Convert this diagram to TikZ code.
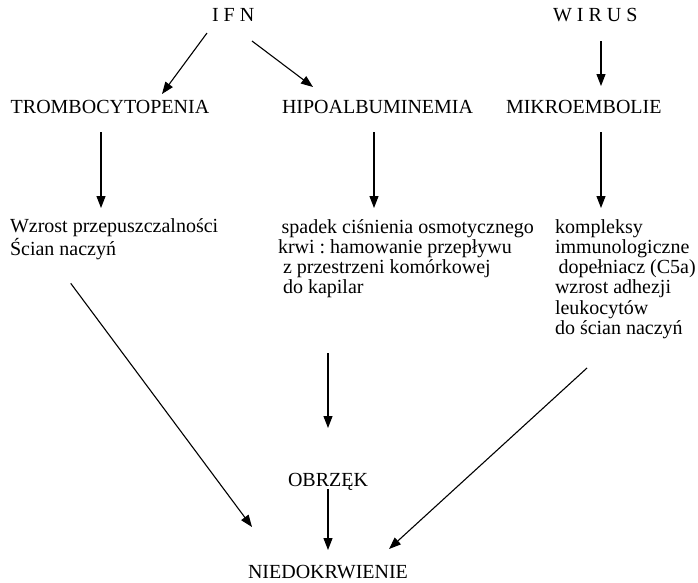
\documentclass[tikz,border=0pt]{standalone}
\usepackage{fontspec}
\setmainfont{Liberation Serif}
\usetikzlibrary{arrows.meta}
\frenchspacing
\begin{document}
\begin{tikzpicture}[x=1pt,y=-1pt,
  lbl/.style={anchor=base west,inner sep=0pt,outer sep=0pt,font=\fontsize{20}{20.3}\selectfont},
  arr/.style={line width=1.1pt,-{Triangle[length=12pt,width=9pt]}}]
\useasboundingbox (0,0) rectangle (698,582);
% labels
\node[lbl] (ifn) at (212,21) {I F N};
\node[lbl] (wirus) at (553,21) {W I R U S};
\node[lbl] (trombo) at (10.7,113) {TROMBOCYTOPENIA};
\node[lbl] (hipo) at (282,113) {HIPOALBUMINEMIA};
\node[lbl] (mikro) at (506,113) {MIKROEMBOLIE};
\node[lbl] (lewy) at (10,232) {\begin{tabular}[t]{@{}l@{}}Wzrost przepuszczalności\\[0.7pt]Ścian naczyń\end{tabular}};
\node[lbl] (srodek) at (278,233) {\begin{tabular}[t]{@{}l@{}}\hspace*{3.7pt}spadek ciśnienia osmotycznego\\krwi : hamowanie przepływu\\\hspace*{5pt}z przestrzeni komórkowej\\\hspace*{5pt}do kapilar\end{tabular}};
\node[lbl] (prawy) at (555,233) {\begin{tabular}[t]{@{}l@{}}kompleksy\\immunologiczne\\\hspace*{3.5pt}dopełniacz (C5a)\\wzrost adhezji\\leukocytów\\do ścian naczyń\end{tabular}};
\node[lbl] (obrzek) at (288,486) {OBRZĘK};
\node[lbl] (niedo) at (248,578) {NIEDOKRWIENIE};
% connector ends
\coordinate (ifnL) at (207,33);   \coordinate (tromboT) at (162,94);
\coordinate (ifnR) at (252,41);   \coordinate (hipoT) at (313,87);
\coordinate (wirusB) at (601,41); \coordinate (mikroT) at (601,86);
\coordinate (tromboB) at (101,132); \coordinate (lewyT) at (101,208);
\coordinate (hipoB) at (374,132); \coordinate (srodekT) at (374,208);
\coordinate (mikroB) at (601,132); \coordinate (prawyT) at (601,208);
\coordinate (srodekB) at (328,353); \coordinate (obrzekT) at (328,428);
\coordinate (lewyB) at (70.7,283.3); \coordinate (niedoL) at (252,527);
\coordinate (prawyB) at (587,368); \coordinate (niedoR) at (389,549);
\coordinate (obrzekB) at (328,489); \coordinate (niedoT) at (328,550);
% connectors
\draw[arr] (ifnL) -- (tromboT);
\draw[arr] (ifnR) -- (hipoT);
\draw[arr] (wirusB) -- (mikroT);
\draw[arr] (tromboB) -- (lewyT);
\draw[arr] (hipoB) -- (srodekT);
\draw[arr] (mikroB) -- (prawyT);
\draw[arr] (srodekB) -- (obrzekT);
\draw[arr] (lewyB) -- (niedoL);
\draw[arr] (prawyB) -- (niedoR);
\draw[arr] (obrzekB) -- (niedoT);
\end{tikzpicture}
\end{document}
